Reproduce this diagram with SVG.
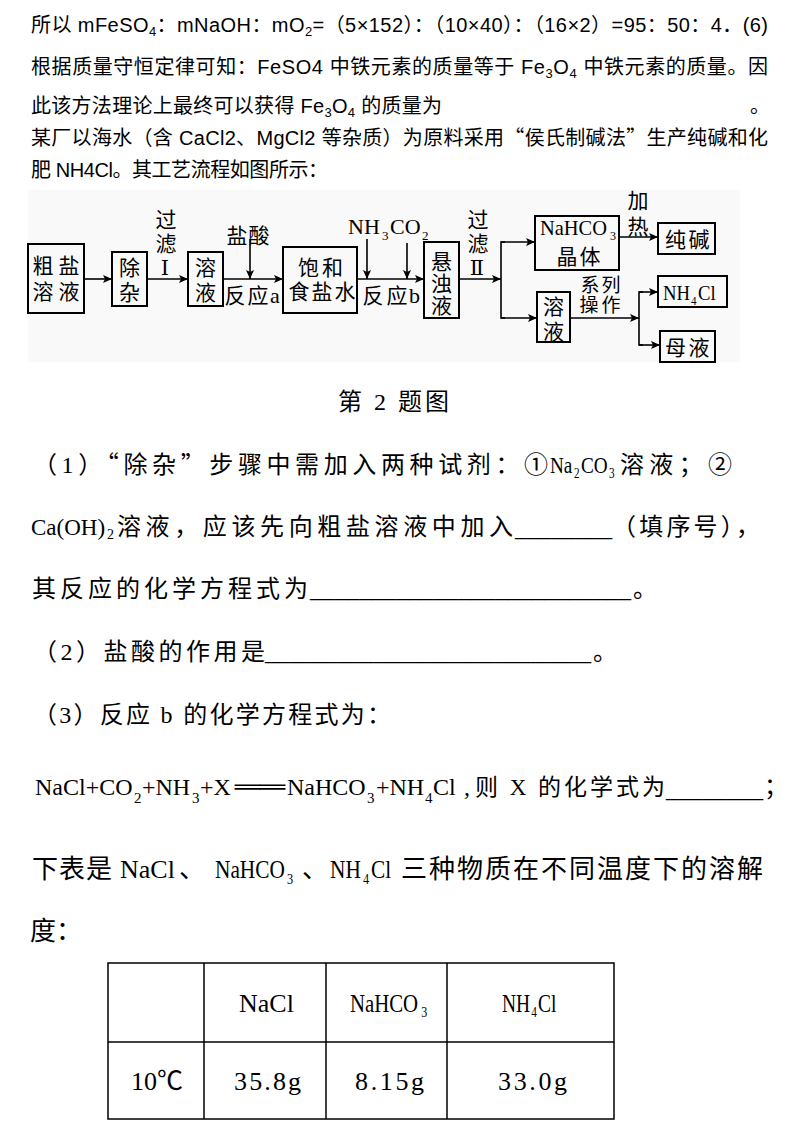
<svg xmlns="http://www.w3.org/2000/svg" width="788" height="1145" viewBox="0 0 788 1145">
<style>
.top{font-family:"Liberation Sans","Noto Sans CJK SC",sans-serif;font-size:20px;fill:#000}
.body{font-family:"Liberation Serif","Noto Sans CJK SC",serif;font-size:24px;fill:#000}
.cjk{font-family:"Noto Sans CJK SC",sans-serif}
.box{fill:none;stroke:#000;stroke-width:2}
.ln{fill:none;stroke:#000;stroke-width:1.6}
.fc{font-family:"Noto Sans CJK SC",sans-serif;font-size:21px;text-anchor:middle;fill:#000}
.fl{font-family:"Liberation Serif",serif;font-size:22px;fill:#000}
.fs{font-family:"Liberation Serif",serif;font-size:13px}
.rn{font-family:"DejaVu Serif","Noto Sans CJK SC",serif;font-size:21px;text-anchor:middle;fill:#000}
.tb{fill:none;stroke:#000;stroke-width:1.5}
.tt{font-family:"Liberation Serif",serif;font-size:26px;fill:#000}
.sub{font-family:"Liberation Serif",serif;font-size:15px}
.sb14{font-family:"Liberation Serif",serif;font-size:14px}
.eq{font-family:"Liberation Serif","Noto Sans CJK SC",serif;font-size:24px;fill:#000}
.big{font-family:"Liberation Serif","Noto Sans CJK SC",serif;font-size:26px;fill:#000}
</style>
<defs>
<marker id="ah" markerUnits="userSpaceOnUse" markerWidth="10" markerHeight="8" refX="9" refY="4" orient="auto"><path d="M0,0 L9,4 L0,8 L2,4 Z" fill="#000"/></marker>
</defs>
<rect width="788" height="1145" fill="#fff"/>

<g id="intro-text">
<text class="top" x="31" y="32" textLength="737">所以 mFeSO<tspan dy="4" style="font-size:13px">4</tspan><tspan dy="-4">：mNaOH：mO</tspan><tspan dy="4" style="font-size:13px">2</tspan><tspan dy="-4">=（5×152）：（10×40）：（16×2）=95：50：4．(6)</tspan></text>
<text class="top" x="31" y="74" textLength="737">根据质量守恒定律可知：FeSO4 中铁元素的质量等于 Fe<tspan dy="4" style="font-size:13px">3</tspan><tspan dy="-4">O</tspan><tspan dy="4" style="font-size:13px">4</tspan><tspan dy="-4"> 中铁元素的质量。因</tspan></text>
<text class="top" x="31" y="113" textLength="411">此该方法理论上最终可以获得 Fe<tspan dy="4" style="font-size:13px">3</tspan><tspan dy="-4">O</tspan><tspan dy="4" style="font-size:13px">4</tspan><tspan dy="-4"> 的质量为</tspan></text>
<text class="top" x="750" y="113">。</text>
<text class="top" x="31" y="145" textLength="737">某厂以海水（含 CaCl2、MgCl2 等杂质）为原料采用<tspan class="cjk">“</tspan>侯氏制碱法<tspan class="cjk">”</tspan>生产纯碱和化</text>
<text class="top" x="31" y="177" textLength="297">肥 NH4Cl。其工艺流程如图所示：</text>
</g>

<rect x="28" y="190" width="712" height="172" fill="#f9f9f9"/>

<g id="connectors">
<line class="ln" x1="84" y1="279" x2="112" y2="279" marker-end="url(#ah)"/>
<line class="ln" x1="147" y1="279" x2="188" y2="279" marker-end="url(#ah)"/>
<line class="ln" x1="223" y1="279" x2="283" y2="279" marker-end="url(#ah)"/>
<line class="ln" x1="250" y1="239" x2="250" y2="279" marker-end="url(#ah)"/>
<line class="ln" x1="357" y1="279" x2="424" y2="279" marker-end="url(#ah)"/>
<line class="ln" x1="367" y1="239" x2="367" y2="279" marker-end="url(#ah)"/>
<line class="ln" x1="407" y1="243" x2="407" y2="279" marker-end="url(#ah)"/>
<line class="ln" x1="459" y1="279" x2="501" y2="279" marker-end="url(#ah)"/>
<polyline class="ln" points="505,242 501,242 501,318 505,318"/>
<line class="ln" x1="501" y1="242" x2="535" y2="242" marker-end="url(#ah)"/>
<line class="ln" x1="501" y1="318" x2="537" y2="318" marker-end="url(#ah)"/>
<line class="ln" x1="619" y1="237" x2="658" y2="237" marker-end="url(#ah)"/>
<line class="ln" x1="570" y1="318" x2="639" y2="318" marker-end="url(#ah)"/>
<polyline class="ln" points="643,292 639,292 639,345 643,345"/>
<line class="ln" x1="639" y1="292" x2="658" y2="292" marker-end="url(#ah)"/>
<line class="ln" x1="639" y1="345" x2="660" y2="345" marker-end="url(#ah)"/>
</g>

<g id="edge-labels">
<text class="fc"><tspan x="166" y="227">过</tspan><tspan x="166" y="251">滤</tspan></text>
<text class="rn" x="165" y="275">Ⅰ</text>
<text class="fc"><tspan x="237" y="243">盐</tspan><tspan x="259" y="243">酸</tspan></text>
<text class="fc"><tspan x="235" y="303">反</tspan><tspan x="258" y="303">应</tspan></text>
<text class="fl" x="270" y="303">a</text>
<text class="fl" y="234"><tspan x="348">NH</tspan><tspan class="fs" x="382" y="240">3</tspan><tspan x="390" y="234">CO</tspan><tspan class="fs" x="422" y="240">2</tspan></text>
<text class="fc"><tspan x="373" y="303">反</tspan><tspan x="397" y="303">应</tspan></text>
<text class="fl" x="409" y="303">b</text>
<text class="fc"><tspan x="478" y="227">过</tspan><tspan x="478" y="251">滤</tspan></text>
<text class="rn" x="477" y="275">Ⅱ</text>
<text class="fc"><tspan x="638" y="208">加</tspan><tspan x="638" y="234">热</tspan></text>
<text class="fc" style="font-size:19px"><tspan x="590" y="291.5">系</tspan><tspan x="611" y="291.5">列</tspan><tspan x="589" y="311.5">操</tspan><tspan x="611" y="311.5">作</tspan></text>
</g>

<g id="n-cuyan">
<rect class="box" x="28" y="244" width="56" height="69"/>
<text class="fc"><tspan x="43" y="273">粗</tspan><tspan x="69" y="273">盐</tspan><tspan x="43" y="299">溶</tspan><tspan x="69" y="299">液</tspan></text>
</g>
<g id="n-chuza">
<rect class="box" x="112" y="252" width="35" height="54"/>
<text class="fc"><tspan x="129.5" y="275">除</tspan><tspan x="129.5" y="300">杂</tspan></text>
</g>
<g id="n-rongye1">
<rect class="box" x="188" y="252" width="35" height="54"/>
<text class="fc"><tspan x="205.5" y="275">溶</tspan><tspan x="205.5" y="300">液</tspan></text>
</g>
<g id="n-baohe">
<rect class="box" x="283" y="247" width="74" height="66"/>
<text class="fc"><tspan x="308.5" y="275">饱</tspan><tspan x="332.5" y="275">和</tspan><tspan x="299" y="299">食</tspan><tspan x="322" y="299">盐</tspan><tspan x="345" y="299">水</tspan></text>
</g>
<g id="n-xuanzhuo">
<rect class="box" x="424" y="242" width="35" height="76"/>
<text class="fc"><tspan x="441.5" y="269">悬</tspan><tspan x="441.5" y="291">浊</tspan><tspan x="441.5" y="313">液</tspan></text>
</g>
<g id="n-nahco3">
<rect class="box" x="535" y="216" width="84" height="54"/>
<text class="fl" transform="translate(540,235) scale(0.93,1)"><tspan x="0" y="0">NaHCO</tspan><tspan class="fs" x="75.3" y="5">3</tspan></text>
<text class="fc"><tspan x="567" y="264">晶</tspan><tspan x="590" y="264">体</tspan></text>
</g>
<g id="n-chunjian">
<rect class="box" x="658" y="223" width="57" height="31"/>
<text class="fc"><tspan x="675.5" y="247">纯</tspan><tspan x="699" y="247">碱</tspan></text>
</g>
<g id="n-rongye2">
<rect class="box" x="537" y="292" width="33" height="50"/>
<text class="fc"><tspan x="553.5" y="314">溶</tspan><tspan x="553.5" y="339">液</tspan></text>
</g>
<g id="n-nh4cl">
<rect class="box" x="658" y="276" width="69" height="31"/>
<text class="fl" transform="translate(663,300) scale(0.85,1)"><tspan x="0" y="0">NH</tspan><tspan class="fs" x="33" y="5">4</tspan><tspan x="41.2" y="0">Cl</tspan></text>
</g>
<g id="n-muye">
<rect class="box" x="660" y="331" width="55" height="31"/>
<text class="fc"><tspan x="675.5" y="355">母</tspan><tspan x="699" y="355">液</tspan></text>
</g>

<g id="question-text">
<text class="body" x="338" y="410" textLength="111">第 2 题图</text>

<text class="body" x="33" y="473" textLength="515">（1）<tspan class="cjk">“</tspan>除杂<tspan class="cjk">”</tspan>步骤中需加入两种试剂：①</text>
<text class="body" transform="translate(550,473) scale(0.8,1)"><tspan x="0" y="0">Na</tspan><tspan class="sb14" x="30" y="5">2</tspan><tspan x="38.75" y="0">CO</tspan><tspan class="sb14" x="73.75" y="5">3</tspan></text>
<text class="body" x="620" y="473" textLength="112">溶液；②</text>

<text class="body" y="535"><tspan x="31" style="font-size:23px">Ca(OH)</tspan><tspan class="sb14" x="107" y="539">2</tspan><tspan x="117" y="535" textLength="396">溶液，应该先向粗盐溶液中加入</tspan><tspan x="515" y="536" textLength="97" lengthAdjust="spacingAndGlyphs">________</tspan><tspan x="612" y="535" textLength="148">（填序号），</tspan></text>

<text class="body" y="597"><tspan x="32" textLength="276">其反应的化学方程式为</tspan><tspan x="310" textLength="321" lengthAdjust="spacingAndGlyphs">__________________________</tspan><tspan x="633">。</tspan></text>

<text class="body" y="660"><tspan x="33" textLength="232">（2）盐酸的作用是</tspan><tspan x="265" textLength="326" lengthAdjust="spacingAndGlyphs">___________________________</tspan><tspan x="593">。</tspan></text>

<text class="body" x="33" y="723" textLength="358">（3）反应 b 的化学方程式为：</text>

<text class="eq" y="795"><tspan x="35">NaCl+CO</tspan><tspan class="sub" x="134" y="803">2</tspan><tspan x="142" y="795">+NH</tspan><tspan class="sub" x="192" y="803">3</tspan><tspan x="200" y="795">+X</tspan><tspan x="235" y="794" style="font-family:'DejaVu Sans Mono',monospace;font-size:20px" textLength="50" lengthAdjust="spacingAndGlyphs">══</tspan><tspan x="287" y="795">NaHCO</tspan><tspan class="sub" x="367" y="803">3</tspan><tspan x="376" y="795">+NH</tspan><tspan class="sub" x="425" y="803">4</tspan><tspan x="433" y="795">Cl</tspan><tspan x="464">,</tspan><tspan x="475" style="font-size:23px" textLength="190">则 X 的化学式为</tspan><tspan x="666" y="797" textLength="97" lengthAdjust="spacingAndGlyphs">________</tspan><tspan x="764" y="795">；</tspan></text>

<text class="big" y="878"><tspan x="32" textLength="80">下表是</tspan><tspan x="120">NaCl</tspan><tspan x="179">、</tspan></text>
<text class="big" transform="translate(215,878) scale(0.82,1)"><tspan x="0" y="0">NaHCO</tspan><tspan class="sub" x="87.8" y="6">3</tspan></text>
<text class="big" x="302" y="878">、</text>
<text class="big" transform="translate(330,878) scale(0.82,1)"><tspan x="0" y="0">NH</tspan><tspan class="sub" x="40.2" y="6">4</tspan><tspan x="50" y="0">Cl</tspan></text>
<text class="big" x="401" y="878" textLength="362">三种物质在不同温度下的溶解</text>
<text class="big" x="30" y="940">度：</text>
</g>

<g id="solubility-table">
<rect class="tb" x="108" y="963" width="506" height="156"/>
<line class="tb" x1="204" y1="963" x2="204" y2="1119"/>
<line class="tb" x1="326" y1="963" x2="326" y2="1119"/>
<line class="tb" x1="447" y1="963" x2="447" y2="1119"/>
<line class="tb" x1="108" y1="1042" x2="614" y2="1042"/>
<text class="tt" x="239" y="1012">NaCl</text>
<text class="tt" transform="translate(350,1012) scale(0.8,1)"><tspan x="0" y="0">NaHCO</tspan><tspan class="sub" x="89" y="5">3</tspan></text>
<text class="tt" transform="translate(502,1012) scale(0.75,1)"><tspan x="0" y="0">NH</tspan><tspan class="sub" x="39" y="5">4</tspan><tspan x="48" y="0">Cl</tspan></text>
<text class="tt" x="131" y="1090" textLength="52">10<tspan class="cjk">℃</tspan></text>
<text class="tt" x="234" y="1090" textLength="67">35.8g</text>
<text class="tt" x="355" y="1090" textLength="69">8.15g</text>
<text class="tt" x="498" y="1090" textLength="69">33.0g</text>
</g>
</svg>
